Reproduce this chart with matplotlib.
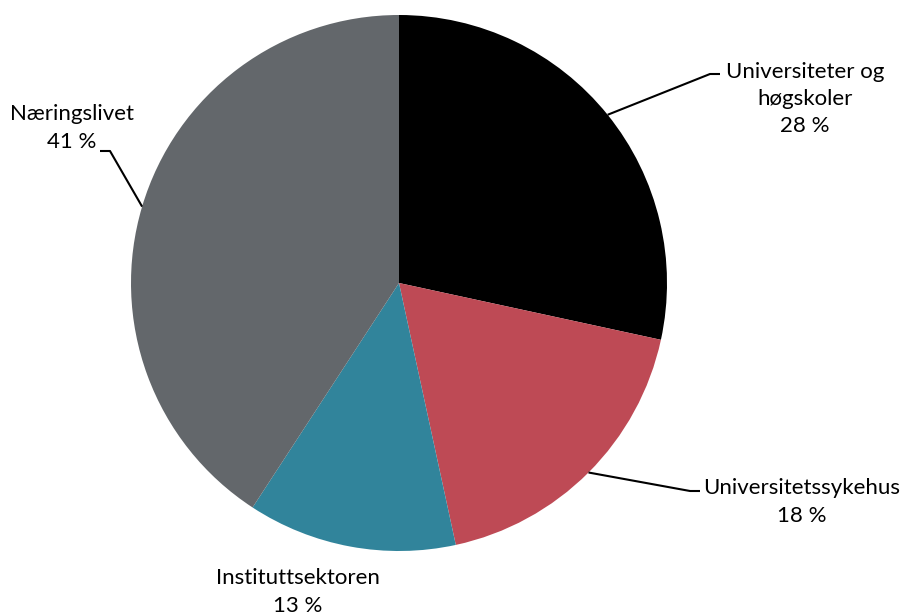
import numpy as np
import matplotlib
matplotlib.use("Agg")
import matplotlib.pyplot as plt

# Data
labels = ["Universiteter og\nhøgskoler", "Universitetssykehus", "Instituttsektoren", "Næringslivet"]
shares = [28.4, 18.2, 12.6, 40.8]
colors = ["#000000", "#BE4A55", "#31849B", "#63676B"]

plt.rcParams['font.family'] = ['Lato', 'DejaVu Sans']

fig = plt.figure(figsize=(9.02, 6.14), dpi=100)
ax = fig.add_axes([0, 0, 1, 1])

cx, cy, r = 399, 283, 268
# y axis is inverted, so counterclock=True draws clockwise on screen
wedges, _ = ax.pie(shares, colors=colors, startangle=-90, counterclock=True,
                   center=(cx, cy), radius=r, frame=True,
                   wedgeprops=dict(linewidth=0))
ax.set_xlim(0, 902)
ax.set_ylim(614, 0)
ax.set_aspect('equal')
ax.axis('off')

# label text positions and leader line elbows (pixels)
text_pos = [(805, 99), (802, 502), (298, 592), (72, 128)]
elbows = [[(710, 74), (720, 74)], [(690, 491), (700, 491)], None, [(110, 151), (100, 151)]]

for w, lab, val, tp, elb in zip(wedges, labels, shares, text_pos, elbows):
    ang = np.deg2rad((w.theta1 + w.theta2) / 2)
    ex = cx + r * np.cos(ang)
    ey = cy + r * np.sin(ang)
    ax.text(tp[0], tp[1], f"{lab}\n{val:.0f} %", ha='center', va='center',
            fontsize=16, color='#000000', linespacing=1.45)
    if elb is not None:
        xs = [ex, elb[0][0], elb[1][0]]
        ys = [ey, elb[0][1], elb[1][1]]
        ax.plot(xs, ys, color='black', linewidth=1.5, solid_capstyle='butt')

fig.savefig("out.png", dpi=100)
